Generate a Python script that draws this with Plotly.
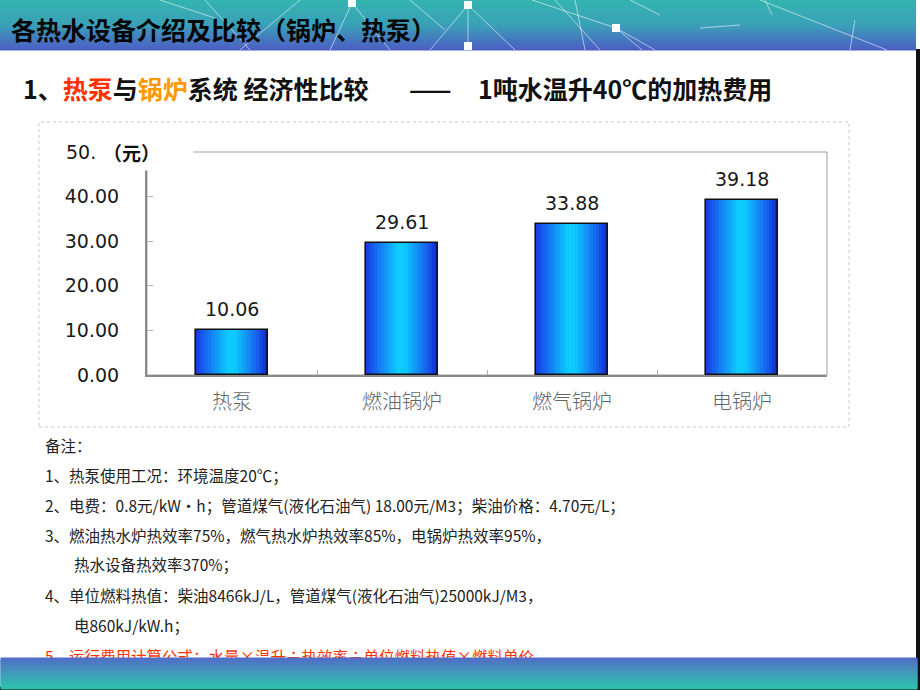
import plotly.graph_objects as go

# ---------------- data ----------------
categories = ["热泵", "燃油锅炉", "燃气锅炉", "电锅炉"]
costs = [10.06, 29.61, 33.88, 39.18]
y_tickvals = [0, 10, 20, 30, 40, 50]
y_ticktext = ["0.00", "10.00", "20.00", "30.00", "40.00", "50."]
y_unit = "（元）"

banner_title = "各热水设备介绍及比较（锅炉、热泵）"
heading_left = ("1、<span style='color:#ff3300'>热泵</span>与"
                "<span style='color:#ff9900'>锅炉</span>系统 经济性比较")
heading_dash = "——"
heading_right = "1吨水温升40℃的加热费用"

notes = [
    ("备注：", 43, 445, "#222222"),
    ("1、热泵使用工况：环境温度20℃；", 43, 475, "#222222"),
    ("2、电费：0.8元/kW·h；管道煤气(液化石油气) 18.00元/M3；柴油价格：4.70元/L；", 43, 505, "#222222"),
    ("3、燃油热水炉热效率75%，燃气热水炉热效率85%，电锅炉热效率95%，", 43, 535, "#222222"),
    ("热水设备热效率370%；", 72, 564, "#222222"),
    ("4、单位燃料热值：柴油8466kJ/L，管道煤气(液化石油气)25000kJ/M3，", 43, 595, "#222222"),
    ("电860kJ/kW.h；", 72, 625, "#222222"),
    ("5、运行费用计算公式：水量×温升÷热效率÷单位燃料热值×燃料单价。", 43, 656, "#ff3300"),
]

# ---------------- geometry helpers ----------------
FW, FH = 920, 690
L, R, T, B = 147, 827, 152, 375
PW, PH = R - L, B - T


def px(x):
    return (x - L) / PW


def py(y):
    return (B - y) / PH


def lerp(c1, c2, t):
    return tuple(int(round(a + (b - a) * t)) for a, b in zip(c1, c2))


def grad(stops, t):
    for i in range(len(stops) - 1):
        t0, c0 = stops[i]
        t1, c1 = stops[i + 1]
        if t0 <= t <= t1:
            return lerp(c0, c1, (t - t0) / (t1 - t0) if t1 > t0 else 0)
    return stops[-1][1]


def rgb(c):
    return "rgb(%d,%d,%d)" % c


fig = go.Figure()

# ---------------- bars (horizontal gradient via slices) ----------------
BW = 0.42
N = 24
bar_stops = [(0.0, (24, 56, 226)), (0.12, (22, 100, 240)), (0.45, (14, 205, 255)),
             (0.55, (14, 200, 255)), (0.85, (22, 95, 236)), (1.0, (16, 36, 196))]
sw = BW / N
for i in range(N):
    off = -BW / 2 + i * sw
    w = min(sw * 1.7, BW / 2 - off)
    col = rgb(grad(bar_stops, (i + 0.5) / N))
    fig.add_trace(go.Bar(x=categories, y=costs, width=w, offset=off,
                         marker=dict(color=col, line=dict(width=0)),
                         hoverinfo="skip", showlegend=False))
# outline
fig.add_trace(go.Bar(x=categories, y=costs, width=BW, offset=-BW / 2,
                     marker=dict(color="rgba(0,0,0,0)", line=dict(color="#111111", width=1.6)),
                     hoverinfo="skip", showlegend=False))

shapes = []
annotations = []

# ---------------- top banner ----------------
top_stops = [(0.0, (52, 180, 176)), (0.5, (58, 160, 184)), (1.0, (76, 96, 196))]
nstrip = 25
for i in range(nstrip):
    y0 = i * 50 / nstrip
    y1 = (i + 1) * 50 / nstrip + 0.5
    shapes.append(dict(type="rect", xref="paper", yref="paper",
                       x0=px(0), x1=px(916), y0=py(y1), y1=py(y0),
                       fillcolor=rgb(grad(top_stops, i / (nstrip - 1))), line=dict(width=0),
                       layer="below"))
net_lines = [
    (468, 5, 468, 47), (468, 5, 515, 50), (468, 5, 430, 50), (532, 0, 616, 28),
    (616, 28, 642, 50), (616, 28, 655, 50), (555, 0, 600, 50), (575, 0, 585, 50),
    (760, 0, 887, 50), (765, 0, 772, 15), (855, 20, 850, 50), (700, 28, 740, 25),
    (160, 0, 215, 18), (205, 0, 250, 50), (300, 0, 240, 50), (352, 3, 390, 50),
    (352, 3, 330, 50), (410, 0, 445, 30), (630, 0, 660, 15),
]
for x0, y0, x1, y1 in net_lines:
    shapes.append(dict(type="line", xref="paper", yref="paper",
                       x0=px(x0), y0=py(y0), x1=px(x1), y1=py(y1),
                       line=dict(color="rgba(255,255,255,0.55)", width=1), layer="below"))
for cx, cy in [(468, 5), (616, 28), (468, 46), (352, 3)]:
    shapes.append(dict(type="rect", xref="paper", yref="paper",
                       x0=px(cx - 4), x1=px(cx + 4), y0=py(cy + 4), y1=py(cy - 4),
                       fillcolor="white", line=dict(width=0), layer="below"))

annotations.append(dict(text="<b>" + banner_title + "</b>", xref="paper", yref="paper",
                        x=px(9), y=py(29), xanchor="left", yanchor="middle", showarrow=False,
                        font=dict(family="Noto Sans CJK SC", size=25, color="#050505", weight=900)))

# ---------------- heading ----------------
hfont = dict(family="Noto Sans CJK SC", size=25, color="#111111", weight=700)
annotations.append(dict(text=heading_left, xref="paper", yref="paper", x=px(21), y=py(88),
                        xanchor="left", yanchor="middle", showarrow=False, font=hfont))
annotations.append(dict(text=heading_dash, xref="paper", yref="paper", x=px(407), y=py(88),
                        xanchor="left", yanchor="middle", showarrow=False, font=hfont))
annotations.append(dict(text=heading_right, xref="paper", yref="paper", x=px(476), y=py(88),
                        xanchor="left", yanchor="middle", showarrow=False, font=hfont))

# ---------------- chart frames ----------------
shapes.append(dict(type="rect", xref="paper", yref="paper",
                   x0=px(39), x1=px(849), y0=py(427), y1=py(122),
                   line=dict(color="#c8c8c8", width=1, dash="dot"), layer="below"))
shapes.append(dict(type="rect", xref="paper", yref="paper", x0=0, x1=1, y0=0, y1=1,
                   line=dict(color="#a0a0a0", width=1), layer="below"))

# data labels
for c, v in zip(categories, costs):
    annotations.append(dict(text="%.2f" % v, x=c, y=v, xref="x", yref="y", yshift=21,
                            xanchor="center", yanchor="middle", showarrow=False,
                            font=dict(family="DejaVu Sans", size=19, color="#1a1a1a")))

# top tick label (truncated by unit label, as in the original)
annotations.append(dict(text=y_ticktext[-1], xref="paper", yref="y", x=px(64), y=y_tickvals[-1],
                        xanchor="left", yanchor="middle", showarrow=False,
                        font=dict(family="DejaVu Sans", size=19, color="#1a1a1a")))
# white cover over the top of the y axis, then the unit label
annotations.append(dict(text=" ", xref="paper", yref="paper", x=px(100), y=py(137),
                        xanchor="left", yanchor="top", width=92, height=32, borderpad=0,
                        bgcolor="white", showarrow=False, font=dict(size=2)))
annotations.append(dict(text="<b>" + y_unit + "</b>", xref="paper", yref="paper",
                        x=px(101), y=py(152), xanchor="left", yanchor="middle", showarrow=False,
                        font=dict(family="Noto Sans CJK SC", size=19, color="#111111", weight=700)))

# ---------------- notes ----------------
for txt, x, y, col in notes:
    annotations.append(dict(text=txt, xref="paper", yref="paper", x=px(x), y=py(y),
                            xanchor="left", yanchor="middle", showarrow=False,
                            font=dict(family="Noto Sans CJK SC", size=15.5, color=col)))

# ---------------- bottom banner (annotations so it covers the last note) ----------------
bot_stops = [(0.0, (80, 110, 200)), (0.35, (70, 140, 190)), (1.0, (48, 190, 176))]
nb = 15
for i in range(nb):
    y0 = 657 + i * 2
    annotations.append(dict(text=" ", xref="paper", yref="paper", x=px(0), y=py(y0),
                            xanchor="left", yanchor="top", width=916, height=2.6, borderpad=0,
                            bgcolor=rgb(grad(bot_stops, i / (nb - 1))), showarrow=False,
                            font=dict(size=1)))
shapes.append(dict(type="rect", xref="paper", yref="paper", x0=px(0), x1=px(920),
                   y0=py(690), y1=py(686), fillcolor="#111111", line=dict(width=0)))
shapes.append(dict(type="rect", xref="paper", yref="paper", x0=px(916), x1=px(920),
                   y0=py(690), y1=py(49), fillcolor="#111111", line=dict(width=0)))

fig.update_layout(
    width=FW, height=FH,
    margin=dict(l=L, r=FW - R, t=T, b=FH - B, pad=0),
    paper_bgcolor="white", plot_bgcolor="white",
    barmode="overlay", bargap=0,
    showlegend=False,
    shapes=shapes, annotations=annotations,
    xaxis=dict(type="category", showgrid=False, zeroline=False,
               showline=True, linecolor="#8a8a8a", linewidth=2,
               ticks="inside", tickson="boundaries", ticklen=5, tickcolor="#b0b0b0",
               tickfont=dict(family="Noto Sans CJK SC", size=20, color="#666666", weight=300),
               ticklabelstandoff=8, fixedrange=True),
    yaxis=dict(range=[0, 50], tickvals=y_tickvals[:-1], ticktext=y_ticktext[:-1],
               showgrid=False, zeroline=False, showline=True, linecolor="#8a8a8a", linewidth=2,
               ticks="inside", ticklen=6, tickcolor="#b0b0b0",
               tickfont=dict(family="DejaVu Sans", size=19, color="#1a1a1a"),
               ticklabelstandoff=22, fixedrange=True),
)

fig.write_html("out.html", config={"displayModeBar": False},
               post_script="document.body.style.margin='0';document.body.style.overflow='hidden';")
